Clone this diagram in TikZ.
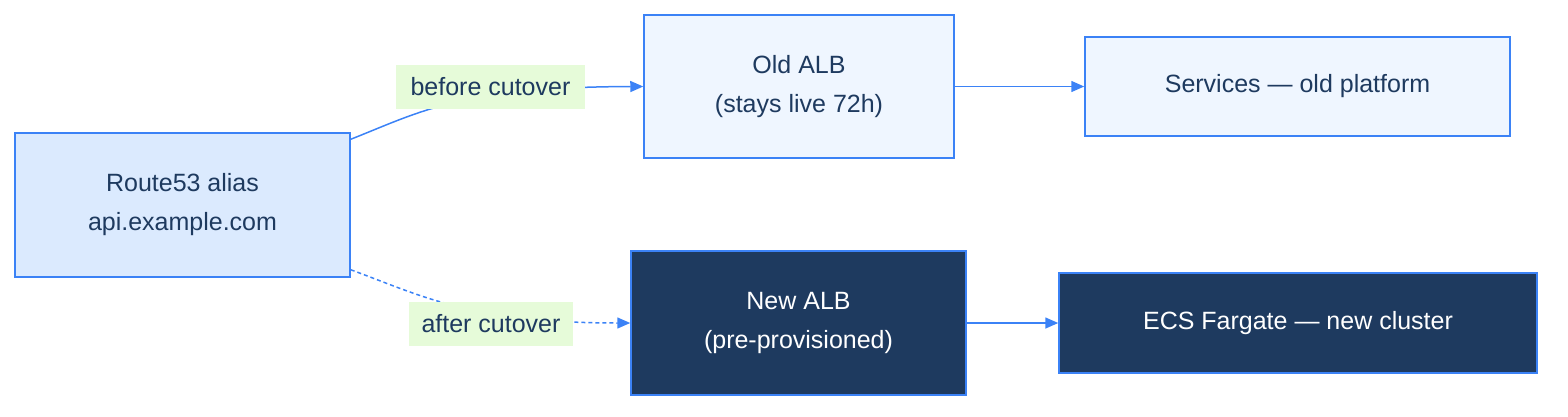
\documentclass[tikz,border=0pt]{standalone}
\usepackage{fontspec}
\setmainfont{Liberation Sans}
\usetikzlibrary{arrows.meta}
\definecolor{bord}{HTML}{3B82F6}
\definecolor{txt}{HTML}{1E3A5F}
\definecolor{lite}{HTML}{DBEAFE}
\definecolor{lite2}{HTML}{EFF6FF}
\definecolor{dark}{HTML}{1E3A5F}
\definecolor{lab}{HTML}{E6FBD9}
\begin{document}
\begin{tikzpicture}[x=1pt,y=-1pt,
  box/.style={draw=bord,line width=1.5pt,inner sep=0pt,align=center,text=txt,font=\fontsize{25}{39}\selectfont},
  edge/.style={draw=bord,line width=1.5pt,-{Triangle[length=13pt,width=11pt]}},
  lbl/.style={fill=lab,text=txt,font=\fontsize{25}{30}\selectfont,inner sep=0pt}]
\useasboundingbox (0,0) rectangle (1568,416);
\node[box,fill=lite,minimum width=335pt,minimum height=144pt] (r53) at (182.5,205) {Route53 alias\\api.example.com};
\node[box,fill=lite2,minimum width=310pt,minimum height=143pt] (old) at (799,86.5) {Old ALB\\(stays live 72h)};
\node[box,fill=lite2,minimum width=425pt,minimum height=99pt] (svc) at (1297.5,86.5) {Services — old platform};
\node[box,fill=dark,text=white,minimum width=335pt,minimum height=144pt] (new) at (798.5,323) {New ALB\\(pre-provisioned)};
\node[box,fill=dark,text=white,minimum width=478pt,minimum height=100pt] (ecs) at (1298,323) {ECS Fargate — new cluster};
\draw[edge] ([yshift=-7pt]r53.north east) .. controls (420,112) and (460,87) .. (old.west);
\draw[edge,dash pattern=on 4pt off 3pt] ([yshift=8pt]r53.south east) .. controls (420,295) and (470,323) .. (new.west);
\node[lbl,minimum width=189pt,minimum height=44pt] (lb) at (490.5,87) {before cutover};
\node[lbl,minimum width=164pt,minimum height=44pt] (la) at (491,324) {after cutover};
\draw[edge] (old.east) -- (svc.west);
\draw[edge] (new.east) -- (ecs.west);
\end{tikzpicture}
\end{document}
